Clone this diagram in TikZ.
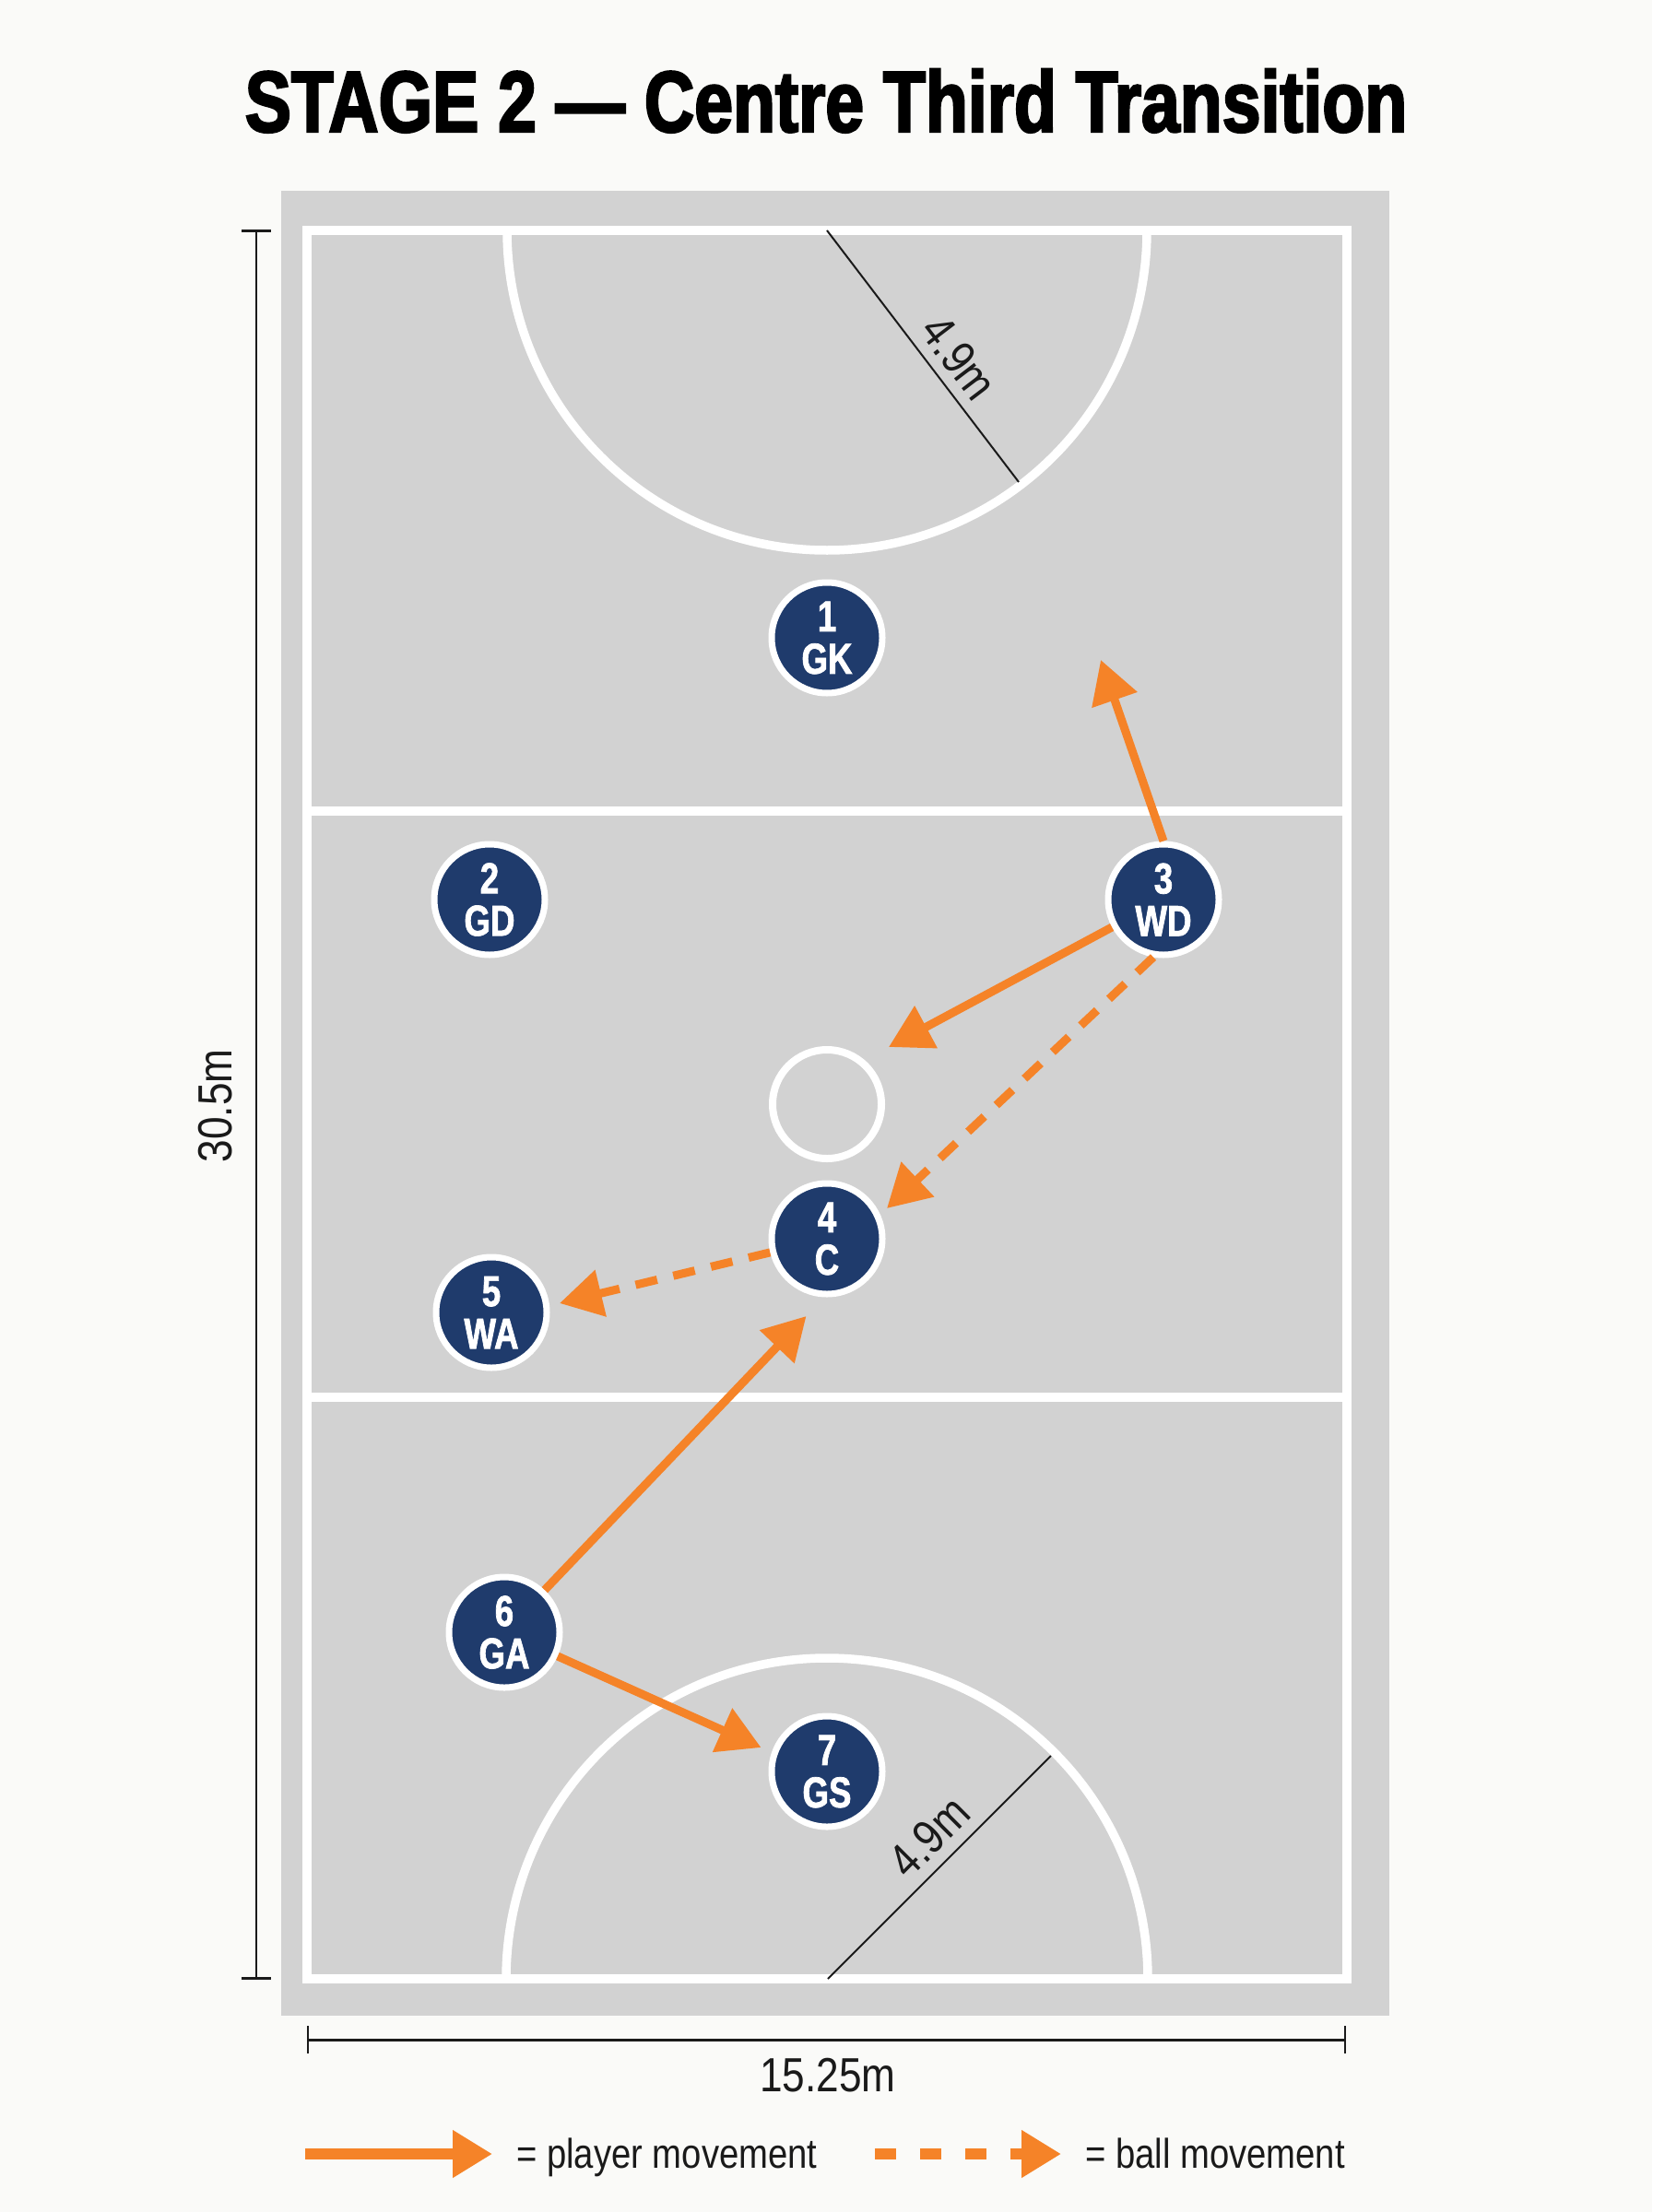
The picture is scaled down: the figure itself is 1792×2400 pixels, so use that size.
\documentclass[tikz,border=0pt]{standalone}
\usepackage{fontspec}
\setmainfont{Liberation Sans}
\newfontfamily\titlefont[FakeStretch=0.80,FakeBold=2.5]{Liberation Sans}
\newfontfamily\playerfont[FakeStretch=0.78,FakeBold=1.5]{Liberation Sans}
\newfontfamily\labelfont[FakeStretch=0.85]{Liberation Sans}
\usetikzlibrary{arrows.meta}
\definecolor{bgcol}{RGB}{250,250,248}
\definecolor{courtgrey}{RGB}{210,210,210}
\definecolor{navy}{RGB}{31,59,108}
\definecolor{orng}{RGB}{245,131,40}
\definecolor{ink}{RGB}{26,26,26}
\begin{document}
\begin{tikzpicture}[x=1pt,y=-1pt,
  courtline/.style={white,line width=9.5pt},
  playerdisc/.style={circle,fill=navy,draw=white,line width=7pt,minimum size=120pt,inner sep=0pt,text=white,align=center,font={\playerfont\bfseries\fontsize{47}{46}\selectfont}},
  dimline/.style={ink,line width=2.5pt},
  dimlabel/.style={text=ink,inner sep=0pt,font={\labelfont\fontsize{52}{52}\selectfont}},
  legendtext/.style={text=ink,inner sep=0pt,anchor=base west,font={\labelfont\fontsize{45}{45}\selectfont}},
  pmove/.style={orng,line width=9pt,-{Triangle[length=46pt,width=50pt]}},
  bmove/.style={orng,line width=9pt,dash pattern=on 24pt off 18pt,-{Triangle[length=46pt,width=50pt]}},
  legpmove/.style={orng,line width=12pt,-{Triangle[length=43pt,width=49pt]}},
  legbmove/.style={orng,line width=12pt,dash pattern=on 23pt off 26pt,-{Triangle[length=43pt,width=49pt]}},
]
\useasboundingbox[fill=bgcol] (0,0) rectangle (1792,2400);

% title
\node[inner sep=0pt,anchor=base,font={\titlefont\bfseries\fontsize{94}{94}\selectfont}] (title) at (896,143) {STAGE 2 — Centre Third Transition};

% court
\fill[courtgrey] (305,207) rectangle (1507,2187);
\begin{scope}
  \clip (333,250) rectangle (1461,2147);
  \draw[courtline] (897,250) circle (347);
  \draw[courtline] (897,2147) circle (348);
\end{scope}
\draw[courtline] (333,880) -- (1461,880);
\draw[courtline] (333,1516) -- (1461,1516);
\draw[courtline] (333,250) rectangle (1461,2147);
\node[circle,draw=white,line width=8pt,minimum size=118pt,inner sep=0pt] (cc) at (897,1198) {};

% radius lines
\coordinate (topc) at (897,250);
\coordinate (topr) at (1105,523);
\coordinate (botc) at (898,2147);
\coordinate (botr) at (1140,1905);
\draw[dimline,line width=2pt] (topc) -- (topr);
\draw[dimline,line width=2pt] (botc) -- (botr);
\node[dimlabel,rotate=-52.7] (lbltop) at (1040,388) {4.9m};
\node[dimlabel,rotate=45] (lblbot) at (1008,1993) {4.9m};

% dimensions
\coordinate (vt) at (278,251);
\coordinate (vb) at (278,2146);
\draw[dimline] (vt) -- (vb);
\draw[dimline,line width=3pt] (262,251) -- (294,251);
\draw[dimline,line width=3pt] (262,2146) -- (294,2146);
\node[dimlabel,rotate=90] (lblh) at (234,1200) {30.5m};
\coordinate (hl) at (334,2213);
\coordinate (hr) at (1459,2213);
\draw[dimline,line width=3pt] (hl) -- (hr);
\draw[dimline] (334,2198) -- (334,2228);
\draw[dimline] (1459,2198) -- (1459,2228);
\node[dimlabel] (lblw) at (898,2252) {15.25m};

% arrow tips
\coordinate (t1) at (1194,716);
\coordinate (t2) at (964,1136);
\coordinate (t3) at (962,1311);
\coordinate (t4) at (607,1414);
\coordinate (t5) at (874.5,1428);
\coordinate (t6) at (825.5,1896);

% players
\node[playerdisc] (gk) at (897,692) {1\\GK};
\node[playerdisc] (gd) at (531,976) {2\\GD};
\node[playerdisc] (wd) at (1262,976) {3\\WD};
\node[playerdisc] (c) at (897,1344) {4\\C};
\node[playerdisc] (wa) at (533,1424) {5\\WA};
\node[playerdisc] (ga) at (547,1771) {6\\GA};
\node[playerdisc] (gs) at (897,1922) {7\\GS};

% movements
\draw[pmove] (wd.north) -- (t1);
\draw[pmove] (wd) -- (t2);
\draw[bmove] (wd.260) -- (t3);
\draw[bmove] (c) -- (t4);
\draw[pmove] (ga) -- (t5);
\draw[pmove] (ga) -- (t6);

% legend
\coordinate (la) at (331,2337);
\coordinate (lb) at (534,2337);
\draw[legpmove] (la) -- (lb);
\node[legendtext] (legp) at (560,2352) {= player movement};
\coordinate (lc) at (949,2337);
\coordinate (ld) at (1151,2337);
\draw[legbmove] (lc) -- (ld);
\node[legendtext] (legb) at (1177,2352) {= ball movement};
\end{tikzpicture}
\end{document}
